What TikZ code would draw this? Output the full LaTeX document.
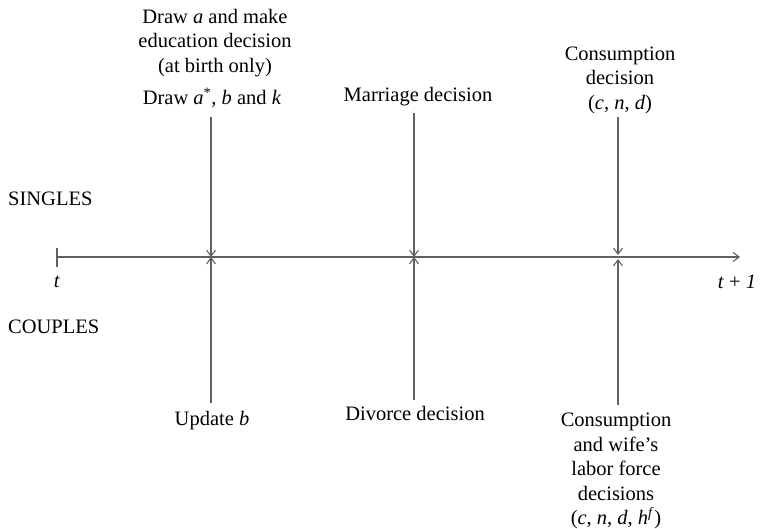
\documentclass[tikz,border=0pt]{standalone}
\usepackage{fontspec}
\setmainfont{Liberation Serif}
\usetikzlibrary{arrows.meta,positioning}

\begin{document}
\begin{tikzpicture}[x=1pt, y=-1pt, every node/.style={font=\fontsize{20.5}{24.5}\selectfont, inner sep=0pt}]
  \useasboundingbox (0,0) rectangle (760,528);
  % Define dimensions
  \def\axisY{257}
  \def\TickSize{9.5}
  \tikzset{timeline/.style={draw=black!62, line width=1.1pt},
           tip/.style={-{Straight Barb[length=6pt,width=9pt]}}}

  % Define points
  \coordinate (tstart) at (57,\axisY);
  \coordinate (tend)   at (740,\axisY);
  \coordinate (tickup) at (57,\axisY-\TickSize);
  \coordinate (tickdn) at (57,\axisY+\TickSize);

  % event points: name / x / top end / bottom end
  \foreach \name/\x/\ytop/\ybot in {draw/211/117/403, marr/414/113/400, cons/618/117/405}{
    \coordinate (\name-top) at (\x,\ytop);
    \coordinate (\name-bot) at (\x,\ybot);
  }
  \coordinate (draw-up) at (211,\axisY);
  \coordinate (draw-dn) at (211,\axisY);
  \coordinate (marr-up) at (414,\axisY);
  \coordinate (marr-dn) at (414,\axisY);
  \coordinate (cons-up) at (618,\axisY-2);
  \coordinate (cons-dn) at (618,\axisY+2);

  % Draw axis
  \draw[timeline, tip] (tstart) -- (tend);
  \draw[timeline] (tickup) -- (tickdn);
  \node (t0) at (57,282) {\textit{t}};
  \node (t1) at (737,282) {\textit{t} + \textit{1}};

  % Draw events
  \foreach \name in {draw, marr, cons}{
    \draw[timeline, tip] (\name-top) -- (\name-up);
    \draw[timeline, tip] (\name-bot) -- (\name-dn);
  }

  % Label groups
  \node[anchor=west] (singles) at (8,199) {SINGLES};
  \node[anchor=west] (couples) at (8,327) {COUPLES};

  % Label singles
  \node[align=center] (drawA) at (215,43) {Draw \textit{a} and make\\education decision\\(at birth only)};
  \node (drawB) at (212,98) {Draw \textit{a}\textsuperscript{*}, \textit{b} and \textit{k}};
  \node (marriage) at (418,97) {Marriage decision};
  \node[align=center] (consS) at (620,80) {Consumption\\decision\\(\textit{c}, \textit{n}, \textit{d})};

  % Label couples
  \node (update) at (212,421) {Update \textit{b}};
  \node (divorce) at (415,413) {Divorce decision};
  \node[align=center] (consC) at (616,471) {Consumption\\and wife's\\labor force\\decisions\\(\textit{c}, \textit{n}, \textit{d}, \textit{h}\textsuperscript{\textit{f}})};

\end{tikzpicture}
\end{document}
